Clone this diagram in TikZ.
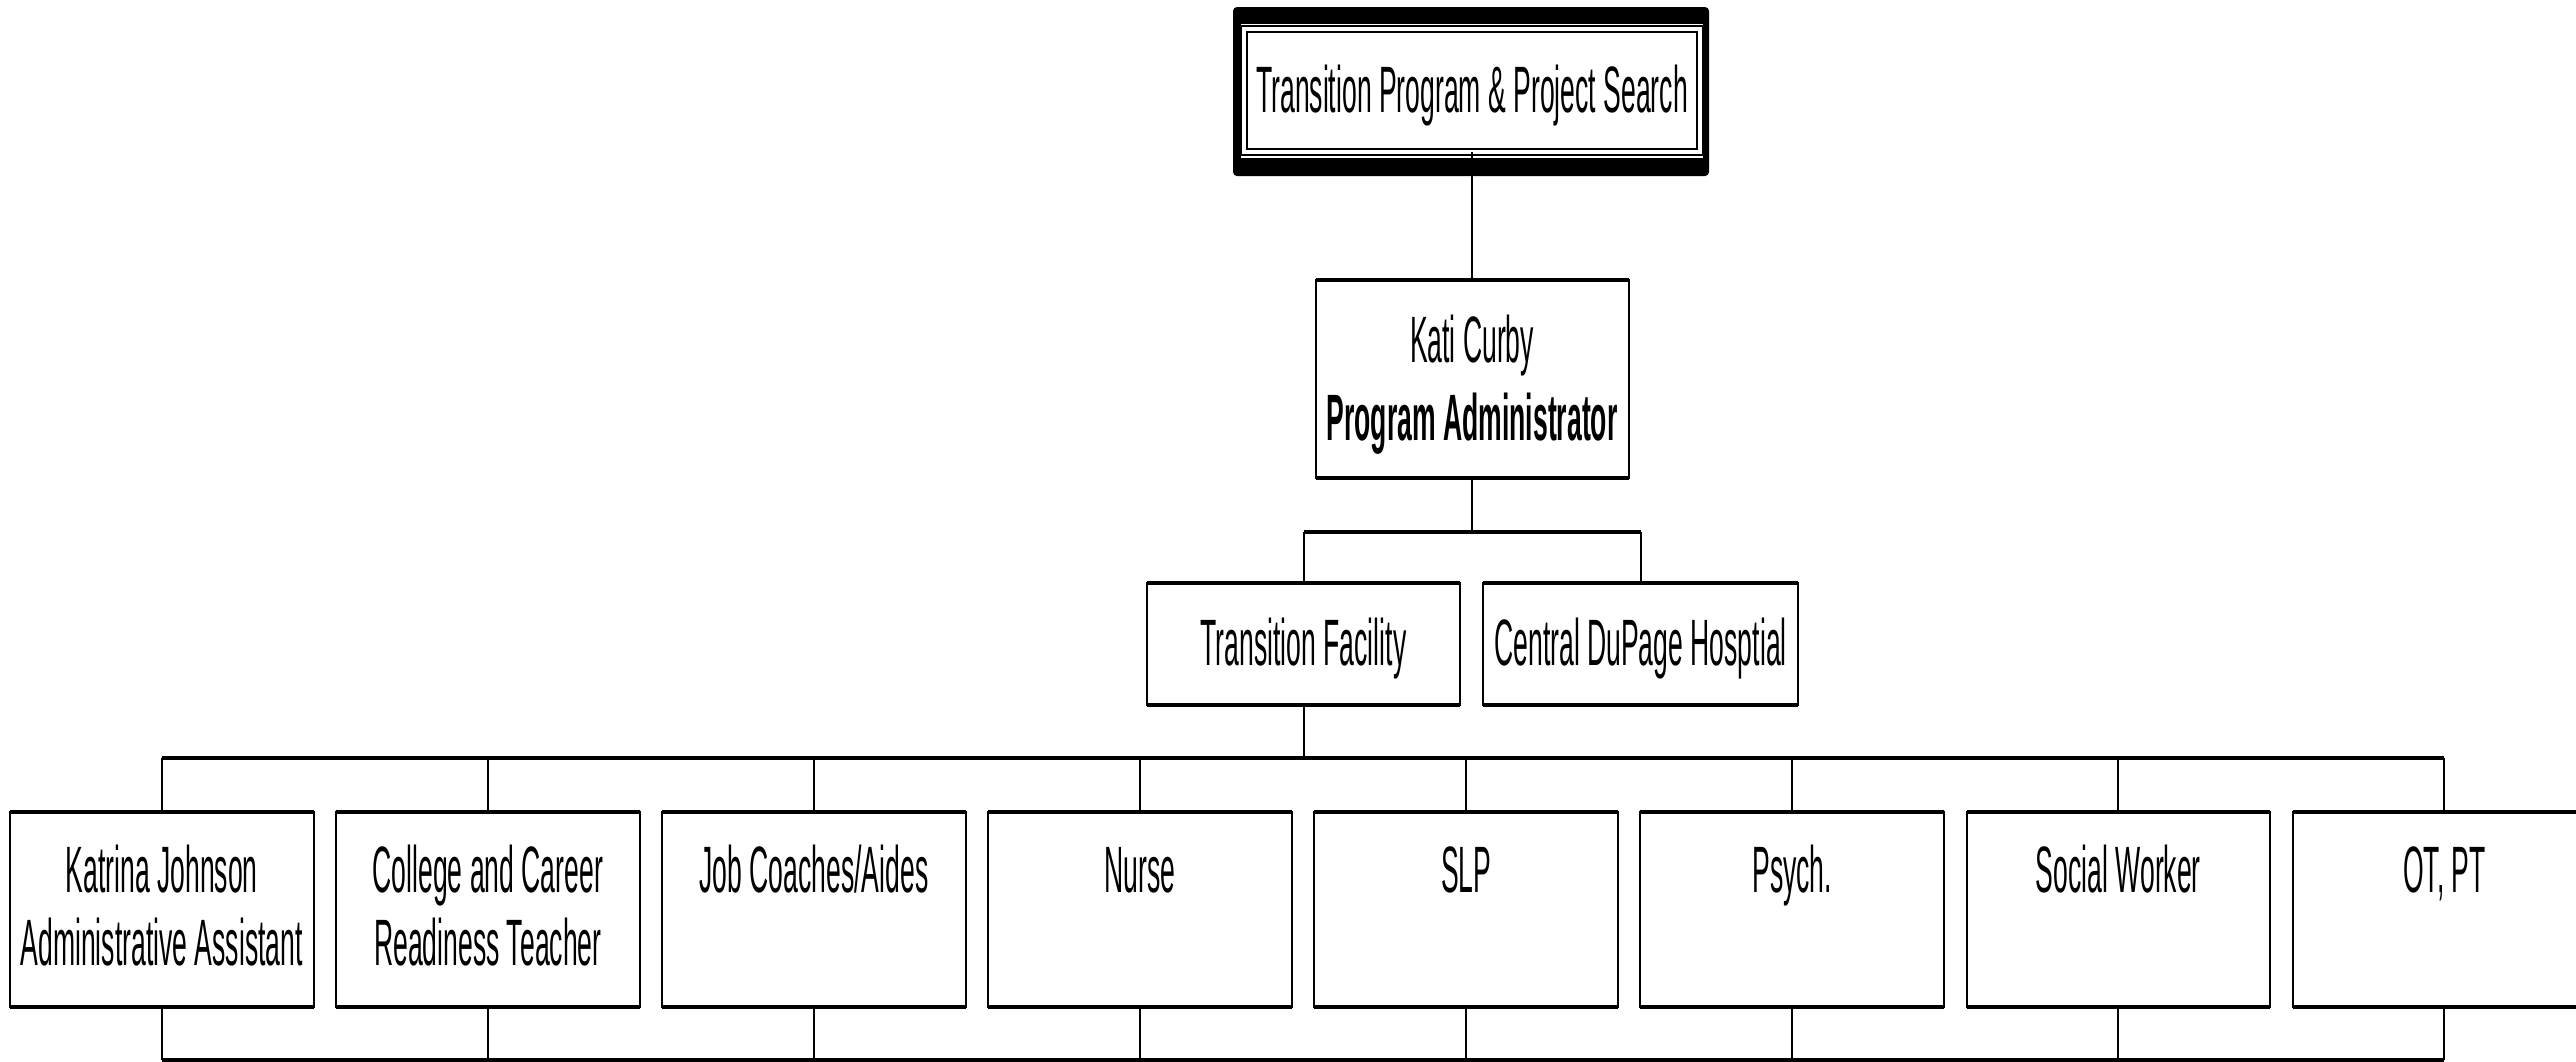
\documentclass[tikz,border=0pt]{standalone}
\usepackage{fontspec}
\setmainfont[FakeStretch=0.405]{Liberation Sans}
\usetikzlibrary{backgrounds}
\newcommand\chartfont[1]{\fontsize{16.4}{#1}\selectfont\spaceskip=1.85pt plus 0.6pt minus 0.3pt\relax}
\tikzset{
  unit/.style={draw, line width=0.5pt, inner sep=0pt, outer sep=0pt, align=flush center, anchor=north},
  rootbox/.style={unit, double, double distance=1pt, line width=0.5pt, text width=114pt, text height=20.75pt, text depth=10pt},
  staff/.style={unit, text width=75.9pt, text height=20pt, text depth=28.75pt},
  rim/.style={line width=0.95pt},
  stem/.style={line width=0.5pt},
  bus/.style={line width=1pt},
}
\begin{document}
\begin{tikzpicture}[x=0.25pt,y=-0.25pt,font=\chartfont{18.4}]
\useasboundingbox (0,0) rectangle (2576,1061);

% top of the chart
\node[rootbox] (prog) at (1472,29) {Transition Program \& Project Search};
\begin{scope}[on background layer]
\fill[rounded corners=1pt] ([shift={(-11,-22)}]prog.north west) rectangle ([shift={(9,24)}]prog.south east);
\fill[white] ([shift={(-3,-5)}]prog.north west) rectangle ([shift={(3,6)}]prog.south east);
\end{scope}

\node[unit, text width=78.25pt, text height=20.5pt, text depth=29pt, font=\chartfont{19.5}] (admin) at (1472,280) {Kati Curby\\\textbf{Program Administrator}};

\node[unit, text width=78.25pt, text height=20.5pt, text depth=10pt] (fac) at (1303.5,583) {Transition Facility};
\node[unit, text width=78.75pt, text height=20.5pt, text depth=10pt] (hosp) at (1640.5,583) {Central DuPage Hosptial};

% staff row
\foreach \n/\t [count=\i from 0] in {asst/{Katrina Johnson\\Administrative Assistant}, ccr/{College and Career\\Readiness Teacher}, coach/{Job Coaches/Aides}, nurse/Nurse, slp/SLP, psych/Psych., sw/Social Worker, otpt/{OT, PT}}
  \node[staff] (\n) at (161.7+326.1*\i,812) {\t};

\foreach \n in {admin,fac,hosp,asst,ccr,coach,nurse,slp,psych,sw,otpt}
  \draw[rim] (\n.north west) -- (\n.north east) (\n.south west) -- (\n.south east);

% connectors
\coordinate (upbar) at (0,531.5);
\coordinate (rowbar) at (0,758);
\coordinate (footbar) at (0,1060);

\draw[stem] (prog.south) -- (admin.north);
\draw[stem] (admin) -- (admin |- upbar);
\draw[bus] (fac |- upbar) -- (hosp |- upbar);
\draw[stem] (fac) -- (fac |- upbar) (hosp) -- (hosp |- upbar);
\draw[stem] (fac) -- (fac |- rowbar);
\draw[bus] (asst |- rowbar) -- (otpt |- rowbar);
\draw[bus] (asst |- footbar) -- (otpt |- footbar);
\foreach \n in {asst,ccr,coach,nurse,slp,psych,sw,otpt}
  \draw[stem] (\n) -- (\n |- rowbar) (\n) -- (\n |- footbar);
\end{tikzpicture}
\end{document}
